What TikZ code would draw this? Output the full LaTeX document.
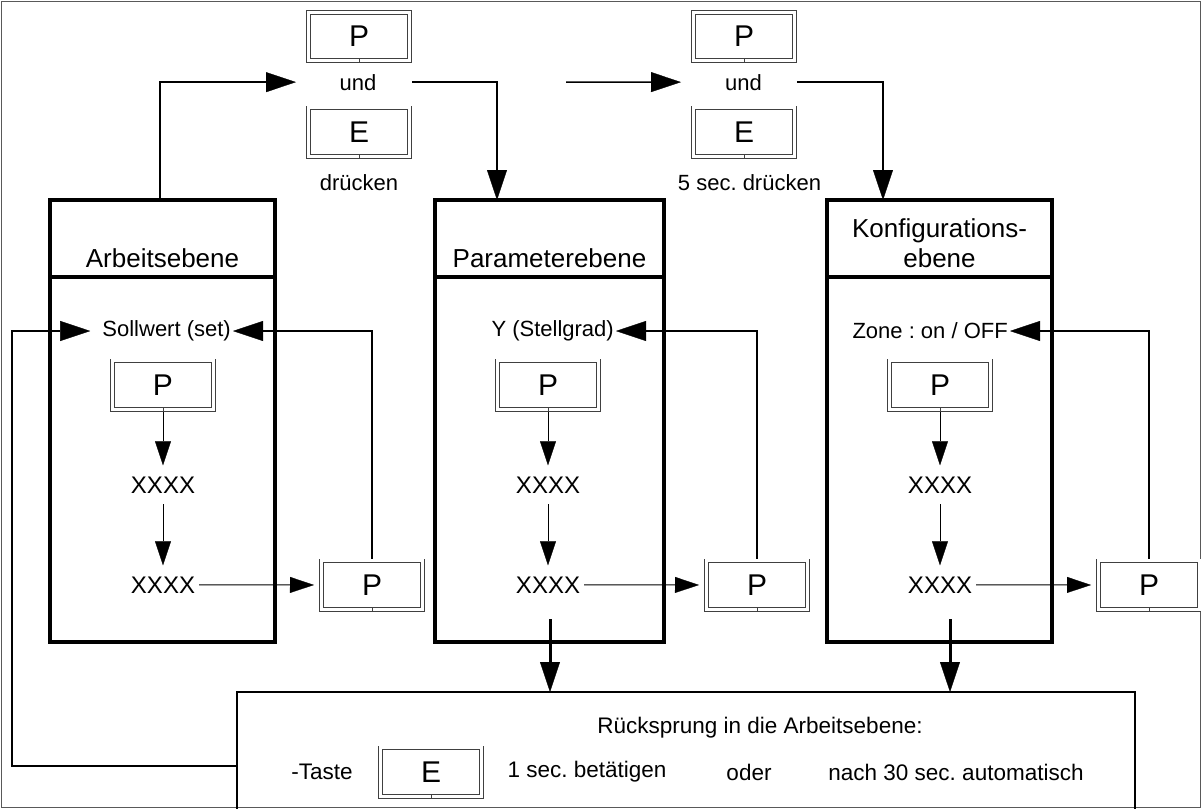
\documentclass[tikz,border=0pt]{standalone}
\usepackage{fontspec}
\setmainfont{Liberation Sans}
\usetikzlibrary{arrows.meta,calc}
\frenchspacing
\begin{document}
\begin{tikzpicture}[x=1pt,y=-1pt,
  box/.style={draw, line width=3.2pt, inner sep=0pt, outer sep=0pt, anchor=north west},
  btn/.style={draw=black!75, double, double distance=3pt, line width=0.8pt,
    minimum width=101.4pt, minimum height=48.4pt, inner sep=0pt, outer sep=2.3pt,
    font=\fontsize{30}{30}\selectfont},
  lbl/.style={font=\fontsize{22}{26}\selectfont, inner sep=0pt},
  blbl/.style={font=\fontsize{22.5}{26}\selectfont, inner sep=0pt},
  hdr/.style={font=\fontsize{26}{30}\selectfont, inner sep=0pt, anchor=base},
  xx/.style={font=\fontsize{24}{28}\selectfont, inner xsep=4pt, inner ysep=11pt, anchor=base},
  bigtip/.style={-{Triangle[length=30pt,width=20pt,line width=0.3pt]}},
  smalltip/.style={-{Triangle[length=24pt,width=16pt,line width=0.3pt]}},
  thk/.style={bigtip, line width=2.7pt},
  med/.style={bigtip, line width=1.5pt},
  thn/.style={smalltip, line width=1pt},
  tick/.style={draw=black!75, line width=0.7pt}
]
\clip (0,0) rectangle (1201,808);
% frame
\draw[black!65, line width=1pt] (1.5,1.5) rectangle (1200,807);

% ---------- column boxes ----------
\node[box, minimum width=225pt, minimum height=77pt] (hA) at (50,200) {};
\node[box, minimum width=225pt, minimum height=365pt] (bA) at (50,277) {};
\node[box, minimum width=229pt, minimum height=77pt] (hP) at (435,200) {};
\node[box, minimum width=229pt, minimum height=365pt] (bP) at (435,277) {};
\node[box, minimum width=225pt, minimum height=77pt] (hK) at (827,200) {};
\node[box, minimum width=225pt, minimum height=365pt] (bK) at (827,277) {};

\node[hdr] (tA) at (162.5,267) {Arbeitsebene};
\node[hdr] (tP) at (549.5,267) {Parameterebene};
\node[hdr] (tK1) at (939.5,237) {Konfigurations-};
\node[hdr] (tK2) at (939.5,267) {ebene};

% ---------- bottom box ----------
\node[draw, line width=1.4pt, inner sep=0pt, outer sep=0pt, anchor=north west,
      minimum width=898pt, minimum height=125pt] (BB) at (237,692) {};
\node[blbl] (R) at (760,728) {Rücksprung in die Arbeitsebene:};
\node[blbl] (Ta) at (322,772) {-Taste};
\node[btn] (EB) at (431,772) {E};
\node[blbl] (b1) at (587,772) {1 sec. betätigen};
\node[blbl] (b2) at (749,772) {oder};
\node[blbl] (b3) at (956,772) {nach 30 sec. automatisch};

% ---------- top key groups ----------
\node[btn] (PT1) at (359,36.5) {P};
\node[lbl, anchor=base] (U1) at (358,90) {und};
\node[btn] (ET1) at (359,132) {E};
\node[lbl, anchor=base] (D1) at (359,190) {drücken};

\node[btn] (PT2) at (744,36.5) {P};
\node[lbl, anchor=base] (U2) at (743.5,90) {und};
\node[btn] (ET2) at (744,132) {E};
\node[lbl, anchor=base] (D2) at (749.5,190) {5 sec. drücken};

% ---------- column contents ----------
% Arbeitsebene
\node[lbl, anchor=east, inner xsep=2pt] (S1) at (233,331) {Sollwert (set)};
\node[btn] (P1) at (163,385) {P};
\node[xx] (X1) at (163,493) {XXXX};
\node[xx] (X2) at (163,593) {XXXX};
\node[btn] (Q1) at (372,585) {P};
% Parameterebene
\node[lbl, anchor=east, inner xsep=2pt] (S2) at (616,331) {Y (Stellgrad)};
\node[btn] (P2) at (548,385) {P};
\node[xx] (X3) at (548,493) {XXXX};
\node[xx] (X4) at (548,593) {XXXX};
\node[btn] (Q2) at (757,585) {P};
% Konfigurationsebene
\node[lbl, anchor=east, inner xsep=2pt] (S3) at (1010,331) {Zone : on / OFF};
\node[btn] (P3) at (940,385) {P};
\node[xx] (X5) at (940,493) {XXXX};
\node[xx] (X6) at (940,593) {XXXX};
\node[btn] (Q3) at (1149,585) {P};

% button ticks
\foreach \b in {PT1,ET1,PT2,ET2,EB,P1,P2,P3,Q1,Q2,Q3}
  \draw[tick] (\b.south) -- ++(0,-4.6);

% ---------- connectors ----------
% top
\draw[thk] ($(hA.north)+(-2.5,0)$) |- ($(PT1.west |- U1)+(-10,0)$);
\draw[thk] (PT1.east |- U1) -| ($(hP.north)+(-52.5,0)$);
\coordinate (f2) at (566,82);
\draw[med] (f2) -- ($(PT2.west |- U2)+(-10,0)$);
\draw[thk] (PT2.east |- U2) -| ($(hK.north)+(-56.5,0)$);

% inside columns
\foreach \p/\a/\b/\q/\s in {P1/X1/X2/Q1/S1, P2/X3/X4/Q2/S2, P3/X5/X6/Q3/S3}{
  \draw[thn] (\p.south) -- (\a.north);
  \draw[thn] (\a.south) -- (\b.north);
  \draw[thn, shorten >=5pt] (\b.east) -- (\q.west);
  \draw[med, line width=1.2pt] (\q.north) |- (\s.east);
}

% return to Arbeitsebene
\coordinate (L) at (12,766);
\draw[thk] (BB.west |- L) -- (L) |- ($(S1.west)+(-10,0)$);

% down to bottom box
\coordinate (m1) at (550,619);
\coordinate (r1) at (950,619);
\draw[thk, line width=3pt] (m1) -- (m1 |- BB.north);
\draw[thk, line width=3pt] (r1) -- (r1 |- BB.north);
\end{tikzpicture}
\end{document}
